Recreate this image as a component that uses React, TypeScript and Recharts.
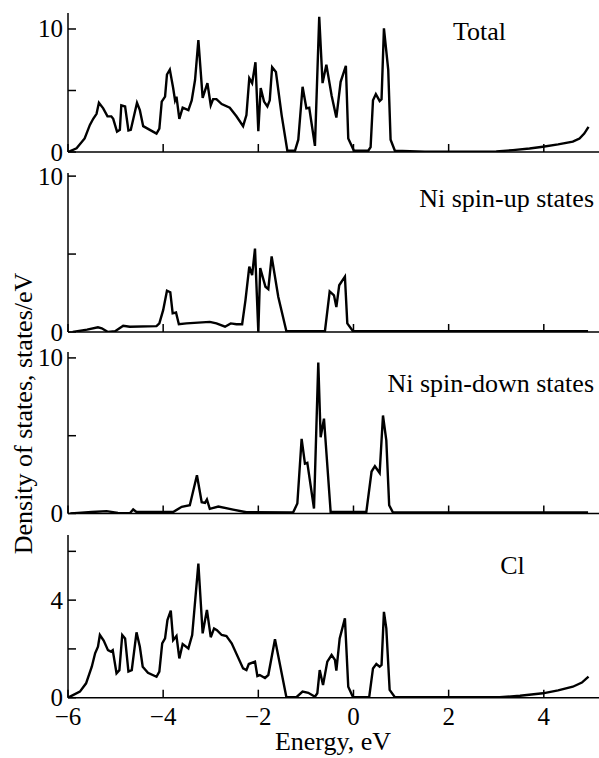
import { LineChart, Line, XAxis, YAxis } from "recharts";

// Energy grid + DOS values for each panel
const totalE = [-6.0, -5.82, -5.65, -5.54, -5.47, -5.4, -5.35, -5.26, -5.17, -5.09, -5.05, -4.97, -4.91, -4.88, -4.8, -4.73, -4.68, -4.55, -4.49, -4.42, -4.28, -4.14, -4.08, -4.03, -3.96, -3.92, -3.86, -3.79, -3.75, -3.72, -3.66, -3.59, -3.47, -3.4, -3.33, -3.26, -3.17, -3.07, -3.0, -2.95, -2.88, -2.77, -2.6, -2.46, -2.32, -2.25, -2.19, -2.13, -2.06, -2.0, -1.95, -1.88, -1.81, -1.76, -1.71, -1.63, -1.51, -1.39, -1.23, -1.16, -1.07, -0.99, -0.93, -0.81, -0.72, -0.65, -0.57, -0.46, -0.36, -0.27, -0.16, -0.11, 0.01, 0.31, 0.36, 0.41, 0.47, 0.55, 0.59, 0.64, 0.73, 0.78, 0.87, 1.5, 2.5, 3.0, 3.35, 3.7, 3.98, 4.3, 4.61, 4.75, 4.85, 4.94];
const totalV = [0, 0.3, 1.1, 2.2, 2.7, 3.1, 4.0, 3.55, 2.9, 2.9, 2.7, 1.65, 1.8, 3.8, 3.7, 1.75, 1.8, 4.0, 3.4, 2.1, 1.8, 1.5, 1.9, 4.1, 4.5, 6.3, 6.7, 5.2, 4.2, 4.5, 2.7, 3.6, 3.4, 4.2, 5.85, 9.1, 4.4, 5.6, 3.8, 4.3, 4.3, 3.9, 3.6, 2.9, 2.1, 3.0, 6.0, 5.6, 7.3, 1.7, 5.2, 4.1, 3.7, 4.2, 6.9, 6.5, 3.0, 0.1, 0.1, 1.0, 5.3, 3.55, 3.6, 0.5, 11.0, 5.6, 7.1, 4.6, 2.8, 5.7, 7.0, 1.1, 0.1, 0.1, 0.4, 4.2, 4.7, 4.15, 4.3, 10.05, 6.7, 1.0, 0.1, 0.02, 0.02, 0.05, 0.15, 0.28, 0.43, 0.62, 0.84, 1.1, 1.5, 2.05];

const upE = [-5.9, -5.6, -5.37, -5.29, -5.16, -5.01, -4.84, -4.7, -4.14, -4.08, -4.0, -3.92, -3.85, -3.8, -3.73, -3.67, -3.51, -3.02, -2.88, -2.7, -2.58, -2.46, -2.34, -2.27, -2.19, -2.13, -2.07, -2.0, -1.96, -1.85, -1.79, -1.72, -1.58, -1.41, -0.6, -0.5, -0.41, -0.36, -0.3, -0.18, -0.13, -0.01, 4.93];
const upV = [0, 0.15, 0.3, 0.24, 0, 0.05, 0.4, 0.34, 0.38, 0.55, 1.4, 2.65, 2.55, 1.2, 1.25, 0.5, 0.55, 0.65, 0.55, 0.34, 0.55, 0.5, 0.5, 2.05, 4.2, 3.65, 5.35, 0.02, 4.1, 2.9, 2.75, 4.85, 2.25, 0.05, 0.05, 2.6, 2.35, 1.6, 3.0, 3.55, 0.55, 0.05, 0.05];

const downE = [-5.95, -5.79, -5.5, -5.19, -4.95, -4.7, -4.63, -4.56, -3.79, -3.61, -3.44, -3.29, -3.19, -3.12, -3.08, -3.02, -2.84, -2.53, -2.25, -1.27, -1.18, -1.09, -1.02, -0.97, -0.83, -0.74, -0.69, -0.62, -0.48, 0.27, 0.38, 0.45, 0.55, 0.62, 0.69, 0.75, 0.83, 4.93];
const downV = [0, 0.04, 0.1, 0.15, 0.04, 0.02, 0.26, 0.1, 0.1, 0.43, 0.53, 2.46, 0.72, 0.68, 0.9, 0.3, 0.45, 0.25, 0.08, 0.06, 0.64, 4.8, 3.2, 3.25, 0.32, 9.7, 4.9, 6.1, 0.1, 0.1, 2.7, 3.04, 2.6, 6.3, 4.7, 0.53, 0.06, 0.06];

const clE = [-6.0, -5.75, -5.62, -5.5, -5.43, -5.37, -5.33, -5.25, -5.16, -5.1, -5.06, -4.98, -4.92, -4.86, -4.8, -4.73, -4.66, -4.56, -4.49, -4.43, -4.32, -4.14, -4.08, -4.02, -3.96, -3.91, -3.84, -3.79, -3.72, -3.66, -3.59, -3.47, -3.39, -3.26, -3.17, -3.08, -3.0, -2.93, -2.87, -2.77, -2.67, -2.56, -2.32, -2.25, -2.2, -2.07, -2.02, -1.97, -1.86, -1.79, -1.65, -1.41, -1.2, -1.07, -0.95, -0.81, -0.76, -0.71, -0.64, -0.55, -0.46, -0.39, -0.36, -0.29, -0.18, -0.11, -0.01, 0.33, 0.41, 0.48, 0.55, 0.59, 0.64, 0.69, 0.76, 0.87, 2.5, 3.07, 3.5, 3.98, 4.3, 4.61, 4.8, 4.94];
const clV = [0, 0.25, 0.59, 1.27, 1.82, 2.09, 2.57, 2.34, 1.95, 1.89, 1.95, 1.0, 1.13, 2.57, 2.43, 1.07, 1.13, 2.68, 2.09, 1.27, 1.02, 0.86, 1.07, 2.23, 2.43, 3.18, 3.57, 2.36, 2.53, 1.61, 2.2, 2.02, 2.57, 5.5, 2.64, 3.6, 2.48, 2.84, 2.77, 2.57, 2.53, 2.23, 1.2, 1.13, 1.38, 1.48, 0.89, 0.93, 0.81, 0.93, 2.4, 0.02, 0.02, 0.25, 0.2, 0.04, 0.18, 1.13, 0.52, 1.48, 1.75, 1.55, 1.11, 2.43, 3.25, 0.45, 0.02, 0.02, 1.2, 1.38, 1.27, 1.34, 3.52, 2.84, 0.32, 0.02, 0.02, 0.02, 0.08, 0.18, 0.3, 0.45, 0.62, 0.86];

const energyTicks = [-6, -4, -2, 0, 2, 4];
const FONT = "'Liberation Serif', 'Times New Roman', serif";
const W = 599;

const toRows = (e: number[], v: number[]) => e.map((x, i) => ({ e: x, v: v[i] }));

function YTick(props: any) {
  const { x, y, payload, shown } = props;
  return (
    <g>
      <line x1={x} y1={y} x2={x + 8} y2={y} stroke="#000" strokeWidth={1.5} />
      {shown.includes(payload.value) && (
        <text x={x - 5} y={y} textAnchor="end" dominantBaseline="central" fontFamily={FONT} fontSize={25} fill="#000">
          {payload.value}
        </text>
      )}
    </g>
  );
}

function XTick(props: any) {
  const { x, y, payload, withLabel } = props;
  const label = payload.value < 0 ? "\u2212" + Math.abs(payload.value) : String(payload.value);
  return (
    <g>
      <line x1={x} y1={y} x2={x} y2={y - 8} stroke="#000" strokeWidth={1.5} />
      {withLabel && (
        <text x={x} y={y + 27} textAnchor="middle" fontFamily={FONT} fontSize={25} fill="#000">
          {label}
        </text>
      )}
    </g>
  );
}

interface PanelProps {
  top: number;
  height: number;
  marginTop: number;
  xHeight: number;
  yMax: number;
  yTicks: number[];
  yLabels: number[];
  rows: { e: number; v: number }[];
  bottom?: boolean;
}

function Panel({ top, height, marginTop, xHeight, yMax, yTicks, yLabels, rows, bottom }: PanelProps) {
  return (
    <div style={{ position: "absolute", left: 0, top }}>
      <LineChart width={W} height={height} data={rows} margin={{ top: marginTop, right: 0, bottom: 0, left: 0 }}>
        <XAxis
          dataKey="e"
          type="number"
          domain={[-6, 5.16]}
          ticks={energyTicks}
          interval={0}
          allowDataOverflow
          height={xHeight}
          tickSize={0}
          tickMargin={0}
          tickLine={false}
          axisLine={{ stroke: "#000", strokeWidth: 1.5 }}
          tick={(p: any) => <XTick {...p} withLabel={!!bottom} />}
        />
        <YAxis
          type="number"
          domain={[0, yMax]}
          ticks={yTicks}
          interval={0}
          allowDataOverflow
          width={68}
          tickSize={0}
          tickMargin={0}
          tickLine={false}
          axisLine={{ stroke: "#000", strokeWidth: 1.5 }}
          tick={(p: any) => <YTick {...p} shown={yLabels} />}
        />
        <Line dataKey="v" type="linear" stroke="#000" strokeWidth={2.4} dot={false} isAnimationActive={false} />
      </LineChart>
    </div>
  );
}

export default function App() {
  return (
    <div style={{ position: "absolute", left: 0, top: 0, width: W, height: 758, background: "#fff" }}>
      <style>{`.recharts-surface { overflow: visible; } .recharts-wrapper { overflow: visible; }`}</style>
      <Panel top={0} height={160} marginTop={13} xHeight={8} yMax={11.3} yTicks={[0, 5, 10]} yLabels={[0, 10]} rows={toRows(totalE, totalV)} />
      <Panel top={165} height={175} marginTop={8} xHeight={8} yMax={10.2} yTicks={[0, 5, 10]} yLabels={[0, 10]} rows={toRows(upE, upV)} />
      <Panel top={345} height={176.5} marginTop={7} xHeight={8} yMax={10.38} yTicks={[0, 5, 10]} yLabels={[0, 10]} rows={toRows(downE, downV)} />
      <Panel top={527} height={231} marginTop={8} xHeight={60.3} yMax={6.67} yTicks={[0, 2, 4, 6]} yLabels={[0, 4]} rows={toRows(clE, clV)} bottom />
      <svg width={W} height={758} style={{ position: "absolute", left: 0, top: 0, pointerEvents: "none" }}>
        <g fontFamily={FONT} fontSize={26} fill="#000">
          <text x={479.5} y={40} textAnchor="middle">Total</text>
          <text x={594} y={207} textAnchor="end">Ni spin-up states</text>
          <text x={594} y={392} textAnchor="end">Ni spin-down states</text>
          <text x={512.5} y={574} textAnchor="middle">Cl</text>
          <text x={333} y={750} textAnchor="middle">Energy, eV</text>
          <text x={0} y={0} textAnchor="middle" transform="translate(32,413.5) rotate(-90)">Density of states, states/eV</text>
        </g>
      </svg>
    </div>
  );
}
